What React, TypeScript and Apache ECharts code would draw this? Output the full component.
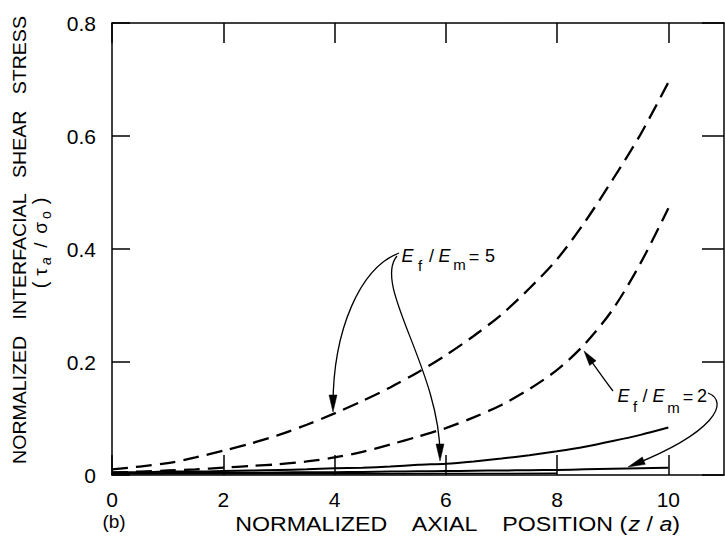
import React, { useEffect, useRef } from 'react';
import * as echarts from 'echarts';

// ---- data ----
const xPositions = [0, 0.5, 1, 1.5, 2, 2.5, 3, 3.5, 4, 4.5, 5, 5.5, 6, 6.5, 7, 7.5, 8, 8.5, 9, 9.5, 10];
const dashedRatio5 = [0.010, 0.015, 0.021, 0.031, 0.043, 0.056, 0.071, 0.089, 0.109, 0.131, 0.155, 0.182, 0.212, 0.246, 0.284, 0.330, 0.382, 0.448, 0.523, 0.603, 0.695];
const dashedRatio2 = [0.004, 0.006, 0.008, 0.010, 0.013, 0.016, 0.019, 0.024, 0.031, 0.041, 0.054, 0.068, 0.083, 0.102, 0.124, 0.152, 0.186, 0.232, 0.293, 0.375, 0.472];
const solidRatio5 = [0.005, 0.005, 0.006, 0.006, 0.007, 0.008, 0.009, 0.010, 0.012, 0.013, 0.015, 0.018, 0.020, 0.024, 0.029, 0.035, 0.042, 0.050, 0.060, 0.071, 0.084];
const solidRatio2 = [0.003, 0.003, 0.0035, 0.0035, 0.004, 0.004, 0.0045, 0.005, 0.005, 0.0055, 0.006, 0.0065, 0.007, 0.0075, 0.008, 0.0085, 0.009, 0.010, 0.011, 0.012, 0.013];
const baseCurveX = [0, 2, 4, 6, 8];
const baseCurveY = [0.002, 0.002, 0.0022, 0.0025, 0.003];
const xTickValues = [0, 2, 4, 6, 8, 10];
const yTickValues = [0, 0.2, 0.4, 0.6, 0.8];

const FONT = "'Liberation Sans', Arial, Helvetica, sans-serif";

function pairs(xs: number[], ys: number[]) {
  return xs.map((x, i) => [x, ys[i]]);
}

function glyph(t: string, x: number, y: number, size: number, italic = false, rot = 0) {
  return {
    type: 'text',
    x,
    y,
    rotation: rot,
    silent: true,
    style: {
      text: t,
      fontSize: size,
      fontFamily: FONT,
      fontStyle: italic ? 'italic' : 'normal',
      fill: '#000',
      align: 'center',
      verticalAlign: 'middle',
      textAlign: 'center',
      textVerticalAlign: 'middle',
    },
  };
}

function arrow(p0: number[], c1: number[], c2: number[], p3: number[], len = 17, half = 4) {
  const dx = p3[0] - c2[0];
  const dy = p3[1] - c2[1];
  const d = Math.hypot(dx, dy) || 1;
  const ux = dx / d;
  const uy = dy / d;
  const bx = p3[0] - ux * len;
  const by = p3[1] - uy * len;
  const px = -uy;
  const py = ux;
  return [
    {
      type: 'bezierCurve',
      silent: true,
      shape: { x1: p0[0], y1: p0[1], cpx1: c1[0], cpy1: c1[1], cpx2: c2[0], cpy2: c2[1], x2: p3[0] - ux * 6, y2: p3[1] - uy * 6 },
      style: { stroke: '#000', lineWidth: 1.3, fill: 'none' },
    },
    {
      type: 'polygon',
      silent: true,
      shape: { points: [[p3[0], p3[1]], [bx + px * half, by + py * half], [bx - px * half, by - py * half]] },
      style: { fill: '#000', stroke: '#000', lineWidth: 0.5 },
    },
  ];
}

export default function App() {
  const ref = useRef<HTMLDivElement>(null);

  useEffect(() => {
    if (!ref.current) return;
    const chart = echarts.init(ref.current, null, { renderer: 'svg' });

    const axisLine = { show: true, onZero: false, lineStyle: { color: '#000', width: 1.5 } };
    const xTick = { show: true, inside: true, length: 20, customValues: xTickValues, lineStyle: { color: '#000', width: 1.5 } };
    const yTick = { show: true, inside: true, length: 18, lineStyle: { color: '#000', width: 1.5 } };

    const graphics: any[] = [
      // x-axis title
      {
        type: 'text',
        x: 457,
        y: 524,
        scaleX: 1.16,
        silent: true,
        style: {
          text: 'NORMALIZED    AXIAL    POSITION ({i|z} / {i|a})',
          fontSize: 20,
          fontFamily: FONT,
          fill: '#000',
          align: 'center',
          verticalAlign: 'middle',
          textAlign: 'center',
          textVerticalAlign: 'middle',
          rich: { i: { fontSize: 20, fontStyle: 'italic', fontFamily: FONT, fill: '#000' } },
        },
      },
      glyph('(b)', 114, 521, 19),
      // y-axis title, rotated
      {
        type: 'text',
        x: 20,
        y: 240,
        rotation: Math.PI / 2,
        scaleX: 1.03,
        silent: true,
        style: {
          text: 'NORMALIZED   INTERFACIAL   SHEAR   STRESS',
          fontSize: 19,
          fontFamily: FONT,
          fill: '#000',
          align: 'center',
          verticalAlign: 'middle',
          textAlign: 'center',
          textVerticalAlign: 'middle',
        },
      },
      glyph('(', 40, 285, 20, false, Math.PI / 2),
      glyph('τ', 40, 272, 19, false, Math.PI / 2),
      glyph('a', 46, 261, 14, true, Math.PI / 2),
      glyph('/', 40, 245, 19, false, Math.PI / 2),
      glyph('σ', 40, 228, 19, false, Math.PI / 2),
      glyph('o', 46, 215, 14, false, Math.PI / 2),
      glyph(')', 40, 201, 20, false, Math.PI / 2),
      // label E_f/E_m = 5
      glyph('E', 407.5, 256, 18, true),
      glyph('f', 420, 265, 15),
      glyph('/', 431.5, 256, 18),
      glyph('E', 444.5, 256, 18, true),
      glyph('m', 459.5, 264, 15),
      glyph('=', 474, 257, 18),
      glyph('5', 490, 256, 18),
      // label E_f/E_m = 2
      glyph('E', 623.5, 396, 18, true),
      glyph('f', 635, 406, 15),
      glyph('/', 645, 396, 18),
      glyph('E', 658.5, 396, 18, true),
      glyph('m', 673.5, 407, 15),
      glyph('=', 688, 397, 18),
      glyph('2', 702, 396, 18),
      ...arrow([399, 253], [360, 268], [333, 330], [333, 412]),
      ...arrow([397, 256], [372, 285], [440, 370], [440, 461]),
      ...arrow([613, 391], [603, 378], [592, 362], [584, 351], 15, 4),
      ...arrow([708, 393], [730, 402], [715, 432], [628, 467], 17, 4),
    ];

    const option: any = {
      animation: false,
      backgroundColor: '#fff',
      grid: { left: 112, top: 23, width: 612, height: 452, containLabel: false, outerBoundsMode: 'none' },
      xAxis: [
        {
          type: 'value', min: 0, max: 11, interval: 2, position: 'bottom',
          axisLine, axisTick: xTick, splitLine: { show: false },
          axisLabel: {
            customValues: xTickValues, fontSize: 21, color: '#000', fontFamily: FONT, margin: 14,
            formatter: (v: number) => (v > 10 ? '' : String(v)),
          },
        },
        {
          type: 'value', min: 0, max: 11, interval: 2, position: 'top',
          axisLine, axisTick: xTick, splitLine: { show: false }, axisLabel: { show: false },
        },
      ],
      yAxis: [
        {
          type: 'value', min: 0, max: 0.8, interval: 0.2, position: 'left',
          axisLine, axisTick: yTick, splitLine: { show: false },
          axisLabel: {
            customValues: yTickValues, fontSize: 21, color: '#000', fontFamily: FONT, margin: 16,
            formatter: (v: number) => (v === 0 ? '0' : v.toFixed(1)),
          },
        },
        {
          type: 'value', min: 0, max: 0.8, interval: 0.2, position: 'right',
          axisLine, axisTick: { ...yTick, length: 22 }, splitLine: { show: false }, axisLabel: { show: false },
        },
      ],
      series: [
        {
          name: 'Ef/Em=5 dashed', type: 'line', xAxisIndex: 0, yAxisIndex: 0, data: pairs(xPositions, dashedRatio5),
          showSymbol: false, symbol: 'none', smooth: 0.3,
          lineStyle: { color: '#000', width: 2.3, type: [16, 8] },
        },
        {
          name: 'Ef/Em=2 dashed', type: 'line', xAxisIndex: 0, yAxisIndex: 0, data: pairs(xPositions, dashedRatio2),
          showSymbol: false, symbol: 'none', smooth: 0.3,
          lineStyle: { color: '#000', width: 2.3, type: [16, 8] },
        },
        {
          name: 'Ef/Em=5 solid', type: 'line', xAxisIndex: 0, yAxisIndex: 0, data: pairs(xPositions, solidRatio5),
          showSymbol: false, symbol: 'none', smooth: 0.3,
          lineStyle: { color: '#000', width: 2 },
        },
        {
          name: 'Ef/Em=2 solid', type: 'line', xAxisIndex: 0, yAxisIndex: 0, data: pairs(xPositions, solidRatio2),
          showSymbol: false, symbol: 'none', smooth: 0.3,
          lineStyle: { color: '#000', width: 2 },
        },
        {
          name: 'base', type: 'line', xAxisIndex: 0, yAxisIndex: 0, data: pairs(baseCurveX, baseCurveY),
          showSymbol: false, symbol: 'none', smooth: 0.3,
          lineStyle: { color: '#000', width: 1.5 },
        },
      ],
      graphic: { elements: graphics },
    };

    chart.setOption(option);
    return () => chart.dispose();
  }, []);

  return <div ref={ref} style={{ position: 'fixed', left: 0, top: 0, width: 725, height: 542, background: '#fff' }} />;
}
